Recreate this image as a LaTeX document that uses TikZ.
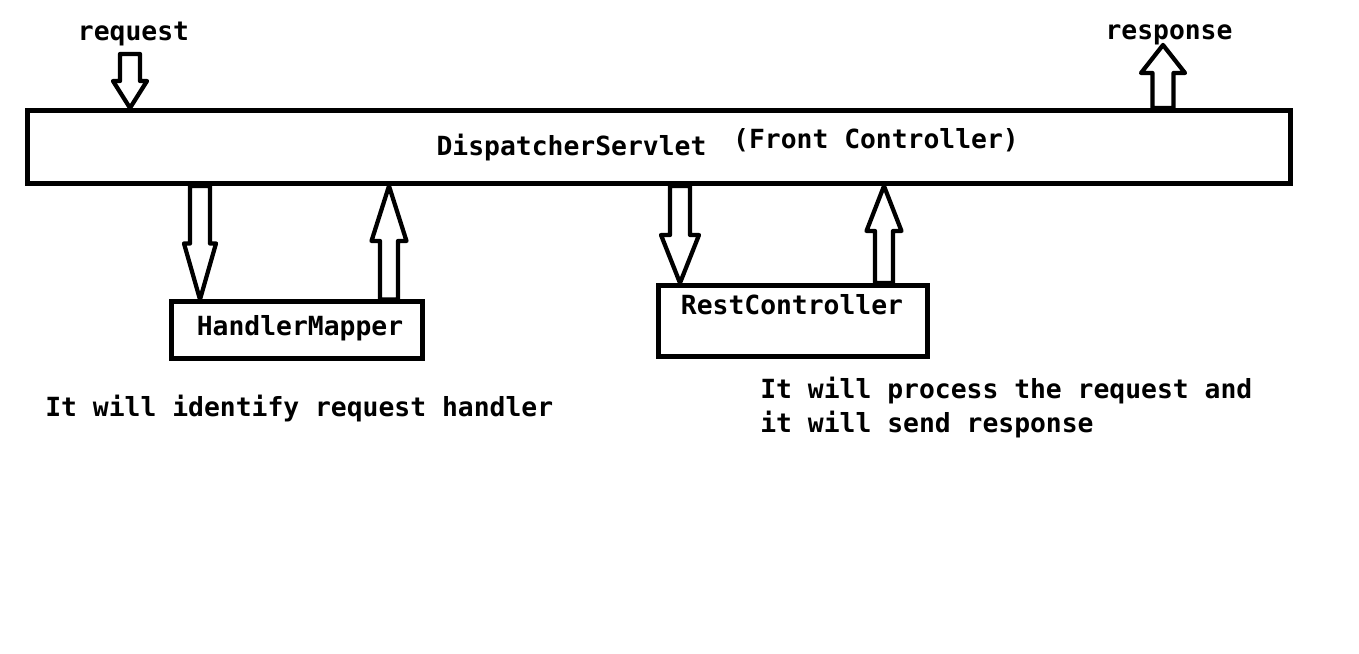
\documentclass[tikz,border=0pt]{standalone}
\usepackage{fontspec}
\setmonofont{DejaVu Sans Mono}
\usetikzlibrary{calc}

\tikzset{
  box/.style={draw, line width=0.1cm, inner sep=0pt},
  hollow/.style={draw, line width=0.085cm, line join=round},
  txt/.style={inner sep=0pt, font=\ttfamily\bfseries\fontsize{15pt}{19.9pt}\selectfont}
}

% hollow block arrow: from, to, head length, shaft half width, head half width
\newcommand{\blockarrow}[5]{%
  \draw[hollow] let \p1=(#1), \p2=(#2), \p3=($(#2)!#3!(#1)$) in
    ({\x1-#4},\y1) -- ({\x1-#4},\y3) -- ({\x1-#5},\y3) -- (\x1,\y2)
    -- ({\x1+#5},\y3) -- ({\x1+#4},\y3) -- ({\x1+#4},\y1) -- cycle;}

\begin{document}
\begin{tikzpicture}
    \useasboundingbox (0,0) rectangle (27.18,-13.08);

    % boxes
    \node[box, minimum width=25.26cm, minimum height=1.46cm] at (13.18,-2.94) (ds) {};
    \node[box, minimum width=5.02cm, minimum height=1.14cm] at (5.93,-6.61) (hm) {};
    \node[box, minimum width=5.38cm, minimum height=1.42cm] at (15.86,-6.42) (rc) {};

    % texts
    \node[txt, anchor=base] at (2.67,-0.82) (request) {request};
    \node[txt, anchor=base] at (23.38,-0.80) (response) {response};
    \node[txt, anchor=base] at (11.43,-3.12) (dstext) {DispatcherServlet};
    \node[txt, anchor=base] at (17.52,-2.98) (fctext) {(Front Controller)};
    \node[txt, anchor=base] at (6.0,-6.72) (hmtext) {HandlerMapper};
    \node[txt, anchor=base] at (15.84,-6.3) (rctext) {RestController};
    \node[txt, anchor=base west] at (0.9,-8.32) (hmnote) {It will identify request handler};
    \node[txt, anchor=base west, align=left] at (15.2,-8.66) (rcnote)
      {It will process the request and\\it will send response};

    % arrow positions
    \coordinate (reqtop) at (2.6,-1.08);
    \coordinate (reqtip) at (reqtop |- ds.north);
    \coordinate (restip) at (23.26,-0.9);
    \coordinate (resbase) at (restip |- ds.north);
    \coordinate (hmdownx) at (4.0,0);
    \coordinate (hmupx) at (7.78,0);
    \coordinate (rcdownx) at (13.6,0);
    \coordinate (rcupx) at (17.68,0);
    \coordinate (hmdowntop) at (hmdownx |- ds.south);
    \coordinate (hmdowntip) at (hmdownx |- hm.north);
    \coordinate (hmupbase) at (hmupx |- hm.north);
    \coordinate (hmuptip) at (hmupx |- ds.south);
    \coordinate (rcdowntop) at (rcdownx |- ds.south);
    \coordinate (rcdowntip) at (rcdownx |- rc.north);
    \coordinate (rcupbase) at (rcupx |- rc.north);
    \coordinate (rcuptip) at (rcupx |- ds.south);

    % arrows
    \blockarrow{reqtop}{reqtip}{0.54cm}{0.2cm}{0.34cm}
    \blockarrow{resbase}{restip}{0.56cm}{0.21cm}{0.44cm}
    \blockarrow{hmdowntop}{hmdowntip}{1.12cm}{0.2cm}{0.32cm}
    \blockarrow{hmupbase}{hmuptip}{1.1cm}{0.18cm}{0.35cm}
    \blockarrow{rcdowntop}{rcdowntip}{0.96cm}{0.2cm}{0.38cm}
    \blockarrow{rcupbase}{rcuptip}{0.9cm}{0.18cm}{0.35cm}
\end{tikzpicture}
\end{document}
